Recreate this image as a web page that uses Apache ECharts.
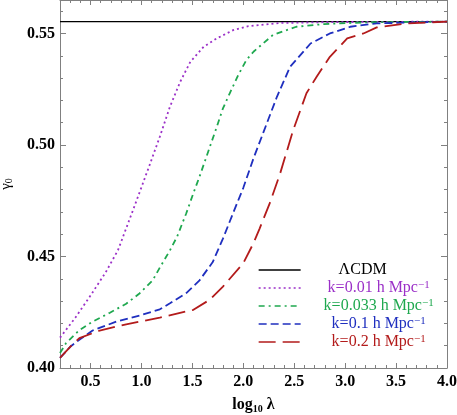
<!DOCTYPE html>
<html><head><meta charset="utf-8">
<script src="https://cdn.jsdelivr.net/npm/echarts@6/dist/echarts.min.js"></script>
<style>html,body{margin:0;padding:0;background:#fff}#c{width:457px;height:415px}</style>
</head><body><div id="c"></div>
<script>
// ---- tick labels ----
const xMajorTicks = [0.5, 1.0, 1.5, 2.0, 2.5, 3.0, 3.5, 4.0];
const yMajorTicks = [0.40, 0.45, 0.50, 0.55];

// ---- series names ----
const seriesNames = ['ΛCDM', 'k=0.01 h Mpc^-1', 'k=0.033 h Mpc^-1', 'k=0.1 h Mpc^-1', 'k=0.2 h Mpc^-1'];

// ---- data ----
const lambdaLCDM = [0.2, 4.0];
const gammaLCDM = [0.5553, 0.5553];

const lambdaK001 = [0.20,0.35,0.50,0.65,0.77,0.93,1.08,1.18,1.28,1.38,1.48,1.61,1.74,1.90,2.05,2.36,2.85,4.00];
const gammaK001  = [0.4136,0.4225,0.4325,0.4430,0.4529,0.4724,0.4910,0.5037,0.5172,0.5283,0.5373,0.5440,0.5478,0.5515,0.5533,0.5547,0.5551,0.5553];

const lambdaK0033 = [0.20,0.26,0.39,0.52,0.69,0.85,0.98,1.11,1.18,1.28,1.35,1.44,1.51,1.57,1.64,1.74,1.80,1.87,1.95,2.03,2.10,2.29,2.52,2.79,3.20,4.00];
const gammaK0033  = [0.4067,0.4112,0.4170,0.4208,0.4248,0.4288,0.4334,0.4393,0.4450,0.4528,0.4589,0.4694,0.4784,0.4858,0.4950,0.5082,0.5164,0.5235,0.5313,0.5381,0.5418,0.5493,0.5530,0.5542,0.5550,0.5553];

const lambdaK01 = [0.20,0.30,0.40,0.52,0.76,0.98,1.18,1.28,1.44,1.57,1.70,1.80,1.90,2.00,2.10,2.20,2.33,2.46,2.66,2.85,3.05,3.31,4.00];
const gammaK01  = [0.4045,0.4095,0.4130,0.4168,0.4209,0.4235,0.4263,0.4290,0.4336,0.4393,0.4475,0.4580,0.4695,0.4808,0.4940,0.5060,0.5216,0.5351,0.5455,0.5500,0.5530,0.5545,0.5553];

const lambdaK02 = [0.20,0.30,0.39,0.59,0.85,1.18,1.51,1.67,1.80,2.00,2.10,2.16,2.26,2.36,2.49,2.62,2.72,2.85,3.02,3.18,3.31,3.60,4.00];
const gammaK02  = [0.4045,0.4095,0.4134,0.4168,0.4196,0.4226,0.4261,0.4306,0.4365,0.4470,0.4560,0.4625,0.4739,0.4870,0.5067,0.5232,0.5306,0.5395,0.5478,0.5500,0.5527,0.5545,0.5553];

const serif = '"Liberation Serif","Times New Roman",serif';
const axisColor = '#808080';
const colors = ['#000000', '#9b30c8', '#1fa84f', '#1f2fbf', '#b31b1b'];
const dashTypes = ['solid', [2, 3], [6, 4, 2, 4], [8, 4], [17, 7]];
const allLambda = [lambdaLCDM, lambdaK001, lambdaK0033, lambdaK01, lambdaK02];
const allGamma = [gammaLCDM, gammaK001, gammaK0033, gammaK01, gammaK02];

const xMin = 0.2, xMax = 4.0, yMin = 0.40, yMax = 0.565;

function xAxisDef(position, major, withLabels) {
  const a = {
    type: 'value', position: position, min: xMin, max: xMax,
    splitLine: { show: false },
    axisLine: { show: major, onZero: false, lineStyle: { color: axisColor, width: 1 } },
    axisTick: { show: true, inside: true, length: major ? 5 : 3, lineStyle: { color: axisColor } },
    axisLabel: { show: false }
  };
  if (major) {
    a.axisTick.customValues = xMajorTicks;
    a.axisLabel = withLabels ? {
      show: true, customValues: xMajorTicks, margin: 6,
      formatter: v => v.toFixed(1),
      fontFamily: serif, fontWeight: 'bold', fontSize: 16, color: '#000'
    } : { show: false };
  } else {
    a.interval = 0.1;
  }
  if (withLabels) {
    a.name = '{a|log}{b|10}{a| λ}';
    a.nameLocation = 'middle';
    a.nameGap = 28;
    a.nameTextStyle = {
      rich: {
        a: { fontFamily: serif, fontWeight: 'bold', fontSize: 16, color: '#000', lineHeight: 18 },
        b: { fontFamily: serif, fontWeight: 'bold', fontSize: 10, color: '#000', verticalAlign: 'bottom', lineHeight: 12 }
      }
    };
  }
  return a;
}

function yAxisDef(position, major, withLabels) {
  const a = {
    type: 'value', position: position, min: yMin, max: yMax,
    splitLine: { show: false },
    axisLine: { show: major, onZero: false, lineStyle: { color: axisColor, width: 1 } },
    axisTick: { show: true, inside: true, length: major ? 6 : 3, lineStyle: { color: axisColor } },
    axisLabel: { show: false }
  };
  if (major) {
    a.axisTick.customValues = yMajorTicks;
    a.axisLabel = withLabels ? {
      show: true, customValues: yMajorTicks, margin: 5,
      formatter: v => v.toFixed(2),
      fontFamily: serif, fontWeight: 'bold', fontSize: 16, color: '#000'
    } : { show: false };
  } else {
    a.interval = 0.01;
  }
  if (withLabels) {
    a.name = '{g|γ}{z|0}';
    a.nameLocation = 'middle';
    a.nameRotate = 90;
    a.nameGap = 46;
    a.nameTextStyle = {
      rich: {
        g: { fontFamily: serif, fontSize: 15, color: '#000', lineHeight: 16 },
        z: { fontFamily: serif, fontSize: 10, color: '#000', verticalAlign: 'bottom', lineHeight: 11 }
      }
    };
  }
  return a;
}

const rich = {};
colors.forEach((c, i) => {
  rich['m' + i] = { fontFamily: serif, fontSize: 16, color: c, align: 'center', lineHeight: 16 };
  rich['s' + i] = { fontFamily: serif, fontSize: 11, color: c, align: 'center', verticalAlign: 'top', lineHeight: 2 };
});
rich.pad = { width: 32, align: 'center', lineHeight: 16 };

function legendText(name) {
  const i = seriesNames.indexOf(name);
  if (i === 0) return '{m0|ΛCDM}{pad|}';
  const base = name.replace('^-1', '');
  return '{m' + i + '|' + base + '}{s' + i + '|−1}';
}

const series = seriesNames.map((name, i) => ({
  name: name, type: 'line', xAxisIndex: 0, yAxisIndex: 0,
  symbol: 'none', smooth: false, clip: true,
  lineStyle: { color: colors[i], width: i === 0 ? 1.3 : 1.8, type: dashTypes[i] },
  itemStyle: { color: colors[i] },
  emphasis: { disabled: true },
  z: i === 0 ? 2 : 3,
  data: allLambda[i].map((x, j) => [x, allGamma[i][j]])
}));

const chart = echarts.init(document.getElementById('c'), null, { renderer: 'canvas' });
chart.setOption({
  animation: false,
  backgroundColor: '#fff',
  grid: { left: 60, right: 10, top: 0, bottom: 47, containLabel: false, outerBoundsMode: 'none' },
  xAxis: [xAxisDef('bottom', true, true), xAxisDef('bottom', false, false), xAxisDef('top', true, false), xAxisDef('top', false, false)],
  yAxis: [yAxisDef('left', true, true), yAxisDef('left', false, false), yAxisDef('right', true, false), yAxisDef('right', false, false)],
  legend: {
    orient: 'vertical', left: 253, top: 257,
    itemWidth: 42, itemHeight: 14, itemGap: 2,
    selectedMode: false,
    data: seriesNames,
    formatter: legendText,
    itemStyle: { color: 'rgba(0,0,0,0)', borderWidth: 0, opacity: 0 },
    lineStyle: { width: 1.3 },
    textStyle: { width: 146, rich: rich, fontFamily: serif, fontSize: 16 }
  },
  series: series
});
</script>
</body></html>
